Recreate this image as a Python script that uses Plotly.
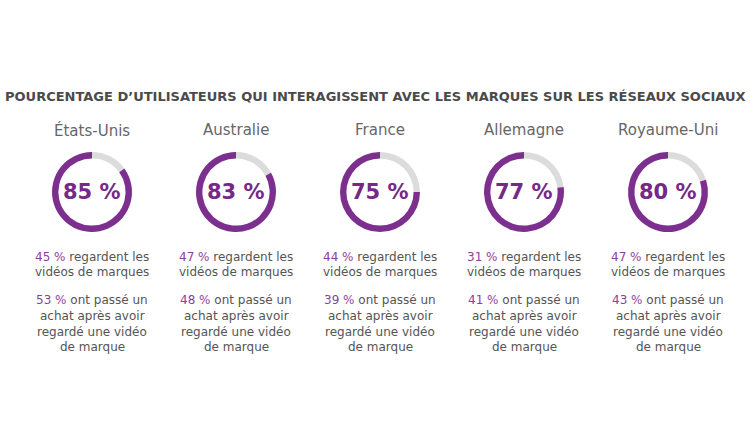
import plotly.graph_objects as go

countries = ["États-Unis", "Australie", "France", "Allemagne", "Royaume-Uni"]
interact_pct = [85, 83, 75, 77, 80]
watch_pct = [45, 47, 44, 31, 47]
purchase_pct = [53, 48, 39, 41, 43]
title = "POURCENTAGE D’UTILISATEURS QUI INTERAGISSENT AVEC LES MARQUES SUR LES RÉSEAUX SOCIAUX"

W, H = 750, 448
PURPLE = "#7d2f8f"
LIGHT_PURPLE = "#8e3f9e"
GREY_RING = "#dcdcdc"
TEXT = "#555555"
FONT = "DejaVu Sans"

cx = [92 + 144 * i for i in range(len(countries))]
cy = 192
r = 40

fig = go.Figure()
ann = []

def px_x(x):
    return x / W

def px_y(y):
    return 1 - y / H

for i, c in enumerate(countries):
    v = interact_pct[i]
    fig.add_trace(go.Pie(
        values=[100 - v, v],
        marker=dict(colors=[GREY_RING, PURPLE], line=dict(width=0)),
        hole=0.84, sort=False, direction="clockwise", rotation=0,
        textinfo="none", hoverinfo="skip", showlegend=False,
        domain=dict(x=[px_x(cx[i] - r), px_x(cx[i] + r)],
                    y=[px_y(cy + r), px_y(cy - r)]),
    ))
    ann.append(dict(x=px_x(cx[i]), y=px_y(cy), text=f"<b>{v} %</b>",
                    font=dict(family=FONT, size=21, color="#74288a"),
                    showarrow=False, xanchor="center", yanchor="middle"))
    ann.append(dict(x=px_x(cx[i]), y=px_y(130), text=c,
                    font=dict(family=FONT, size=15, color="#666666"),
                    showarrow=False, xanchor="center", yanchor="middle"))
    lines = [
        (257, f"<span style='color:{LIGHT_PURPLE}'>{watch_pct[i]} %</span> regardent les"),
        (272, "vidéos de marques"),
        (300, f"<span style='color:{LIGHT_PURPLE}'>{purchase_pct[i]} %</span> ont passé un"),
        (316, "achat après avoir"),
        (332, "regardé une vidéo"),
        (347, "de marque"),
    ]
    for y, t in lines:
        ann.append(dict(x=px_x(cx[i]), y=px_y(y), text=t,
                        font=dict(family=FONT, size=12, color=TEXT),
                        showarrow=False, xanchor="center", yanchor="middle"))

ann.append(dict(x=0.5, y=px_y(96), text=f"<b>{title}</b>",
                font=dict(family=FONT, size=13, color="#4a4a4a"),
                showarrow=False, xanchor="center", yanchor="middle"))

fig.update_layout(width=W, height=H, margin=dict(l=0, r=0, t=0, b=0),
                  paper_bgcolor="white", plot_bgcolor="white",
                  annotations=ann)
fig.write_html("out.html")
